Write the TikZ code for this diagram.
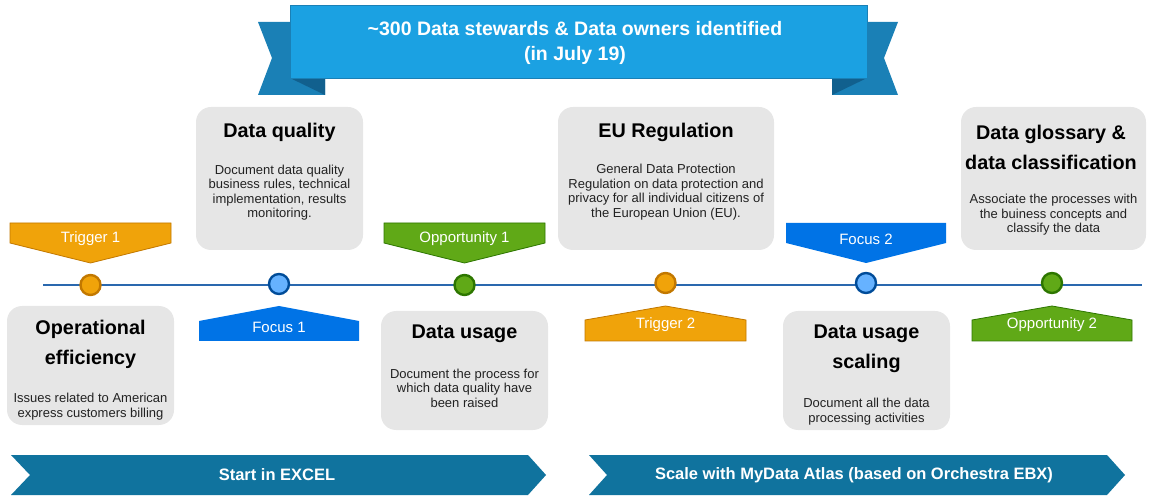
\documentclass[tikz,border=0pt]{standalone}
\usepackage{fontspec}
\setmainfont{Liberation Sans}
\definecolor{bannermain}{HTML}{1BA1E2}
\definecolor{bannerflap}{HTML}{1A80B6}
\definecolor{bannerfold}{HTML}{11608E}
\definecolor{trigfill}{HTML}{F0A30A}
\definecolor{trigline}{HTML}{C27800}
\definecolor{oppfill}{HTML}{60A917}
\definecolor{oppline}{HTML}{2D7600}
\definecolor{focfill}{HTML}{0073E6}
\definecolor{foccircle}{HTML}{66B2FF}
\definecolor{focline}{HTML}{004C99}
\definecolor{boxfill}{HTML}{E6E6E6}
\definecolor{chevfill}{HTML}{10739E}
\definecolor{timeline}{HTML}{2A68AE}
\definecolor{txtgray}{HTML}{222222}
\tikzset{
  boxshape/.style={draw=none, fill=boxfill, rounded corners=15pt, inner sep=0pt},
  titletext/.style={align=center, font=\fontsize{19.8}{30}\selectfont\bfseries, text=black, inner sep=0pt},
  desctext/.style={align=center, font=\fontsize{13}{14.5}\selectfont, text=txtgray, inner sep=0pt},
  tagtext/.style={font=\fontsize{15}{17}\selectfont, text=white, inner sep=0pt},
  chevtext/.style={font=\fontsize{16.5}{18}\selectfont\bfseries, text=white, inner sep=0pt},
  trigshape/.style={fill=trigfill, draw=trigline, line width=0.8pt},
  oppshape/.style={fill=oppfill, draw=oppline, line width=0.8pt},
  focshape/.style={fill=focfill, draw=none},
  dotnode/.style={circle, minimum size=20pt, inner sep=0pt, line width=2.4pt},
  trigdot/.style={dotnode, fill=trigfill, draw=trigline},
  oppdot/.style={dotnode, fill=oppfill, draw=oppline},
  focdot/.style={dotnode, fill=foccircle, draw=focline},
}
\begin{document}
\begin{tikzpicture}[x=1pt, y=-1pt]
\useasboundingbox (0,0) rectangle (1151,502);

% ---- banner ----
\fill[bannerflap] (258,22) -- (325,22) -- (325,95) -- (258,95) -- (272,58) -- cycle;
\fill[bannerfold] (290,78) -- (325,78) -- (325,95) -- cycle;
\fill[bannerflap] (898,22) -- (832,22) -- (832,95) -- (898,95) -- (884,58) -- cycle;
\fill[bannerfold] (867,78) -- (832,78) -- (832,95) -- cycle;
\node[fill=bannermain, draw=bannerflap, line width=0.6pt, minimum width=577pt, minimum height=73pt, inner sep=0pt] (banner) at (578.5,41.5) {};
\node[align=center, font=\fontsize{19.5}{25}\selectfont\bfseries, text=white, inner sep=0pt] (bannertext) at (575,43) {\textasciitilde300 Data stewards \& Data owners identified\\(in July 19)};

% ---- timeline ----
\coordinate (tlstart) at (43,285);
\coordinate (tlend) at (1142,285);
\draw[timeline, line width=1.8pt] (tlstart) -- (tlend);

% ---- upper boxes ----
\node[boxshape, minimum width=167pt, minimum height=143pt] (dq) at (279.5,178.5) {};
\node[titletext] (dqt) at (279.5,132) {Data quality};
\node[desctext] (dqd) at (279.5,192.5) {Document data quality\\business rules, technical\\implementation, results\\monitoring.};

\node[boxshape, minimum width=216pt, minimum height=143pt] (eu) at (666,178.5) {};
\node[titletext] (eut) at (666,132) {EU Regulation};
\node[desctext] (eud) at (666,192) {General Data Protection\\Regulation on data protection and\\privacy for all individual citizens of\\the European Union (EU).};

\node[boxshape, minimum width=185pt, minimum height=143pt] (gl) at (1053.5,178.5) {};
\node[titletext] (glt) at (1051,147) {Data glossary \&\\data classification};
\node[desctext] (gld) at (1053.5,215) {Associate the processes with\\the buiness concepts and\\classify the data};

% ---- lower boxes ----
\node[boxshape, minimum width=167pt, minimum height=119pt] (oe) at (90.5,365.5) {};
\node[titletext] (oet) at (90.5,344.5) {Operational\\efficiency};
\node[desctext] (oed) at (90.5,406.5) {Issues related to American\\express customers billing};

\node[boxshape, minimum width=167pt, minimum height=119pt] (du) at (464.5,370.5) {};
\node[titletext] (dut) at (464.5,334) {Data usage};
\node[desctext] (dud) at (464.5,388) {Document the process for\\which data quality have\\been raised};

\node[boxshape, minimum width=167pt, minimum height=119pt] (dus) at (866.5,370.5) {};
\node[titletext] (dust) at (866.5,349) {Data usage\\scaling};
\node[desctext] (dusd) at (866.5,411.5) {Document all the data\\processing activities};

% ---- tags (down-pointing, above the line) ----
\filldraw[trigshape] (10,223) -- (171,223) -- (171,243) -- (90.5,263) -- (10,243) -- cycle;
\node[tagtext] (t1) at (90.5,239) {Trigger 1};
\filldraw[oppshape] (384,223) -- (545,223) -- (545,243) -- (464.5,263) -- (384,243) -- cycle;
\node[tagtext] (o1) at (464.5,239) {Opportunity 1};
\fill[focshape] (786,223) -- (946,223) -- (946,243) -- (866,263) -- (786,243) -- cycle;
\node[tagtext] (f2) at (866,239) {Focus 2};

% ---- tags (up-pointing, below the line) ----
\fill[focshape] (199,341) -- (359,341) -- (359,321) -- (279,306) -- (199,321) -- cycle;
\node[tagtext] (f1) at (279,327) {Focus 1};
\filldraw[trigshape] (585,341) -- (746,341) -- (746,320) -- (665.5,306) -- (585,320) -- cycle;
\node[tagtext] (t2) at (665.5,325) {Trigger 2};
\filldraw[oppshape] (972,341) -- (1132,341) -- (1132,320) -- (1052,306) -- (972,320) -- cycle;
\node[tagtext] (o2) at (1052,325) {Opportunity 2};

% ---- dots on timeline ----
\node[trigdot] (d1) at (90.5,285) {};
\node[focdot] (d2) at (279,284) {};
\node[oppdot] (d3) at (464.5,285) {};
\node[trigdot] (d4) at (665.5,283) {};
\node[focdot] (d5) at (866,283) {};
\node[oppdot] (d6) at (1052,283) {};

% ---- bottom chevrons ----
\fill[chevfill] (11,455) -- (528,455) -- (546,475) -- (528,495) -- (11,495) -- (30,475) -- cycle;
\node[chevtext] (c1) at (277,475) {Start in EXCEL};
\fill[chevfill] (589,455) -- (1107,455) -- (1125,475) -- (1107,495) -- (589,495) -- (607,475) -- cycle;
\node[chevtext] (c2) at (854,475) {Scale with MyData Atlas (based on Orchestra EBX)};
\end{tikzpicture}
\end{document}
